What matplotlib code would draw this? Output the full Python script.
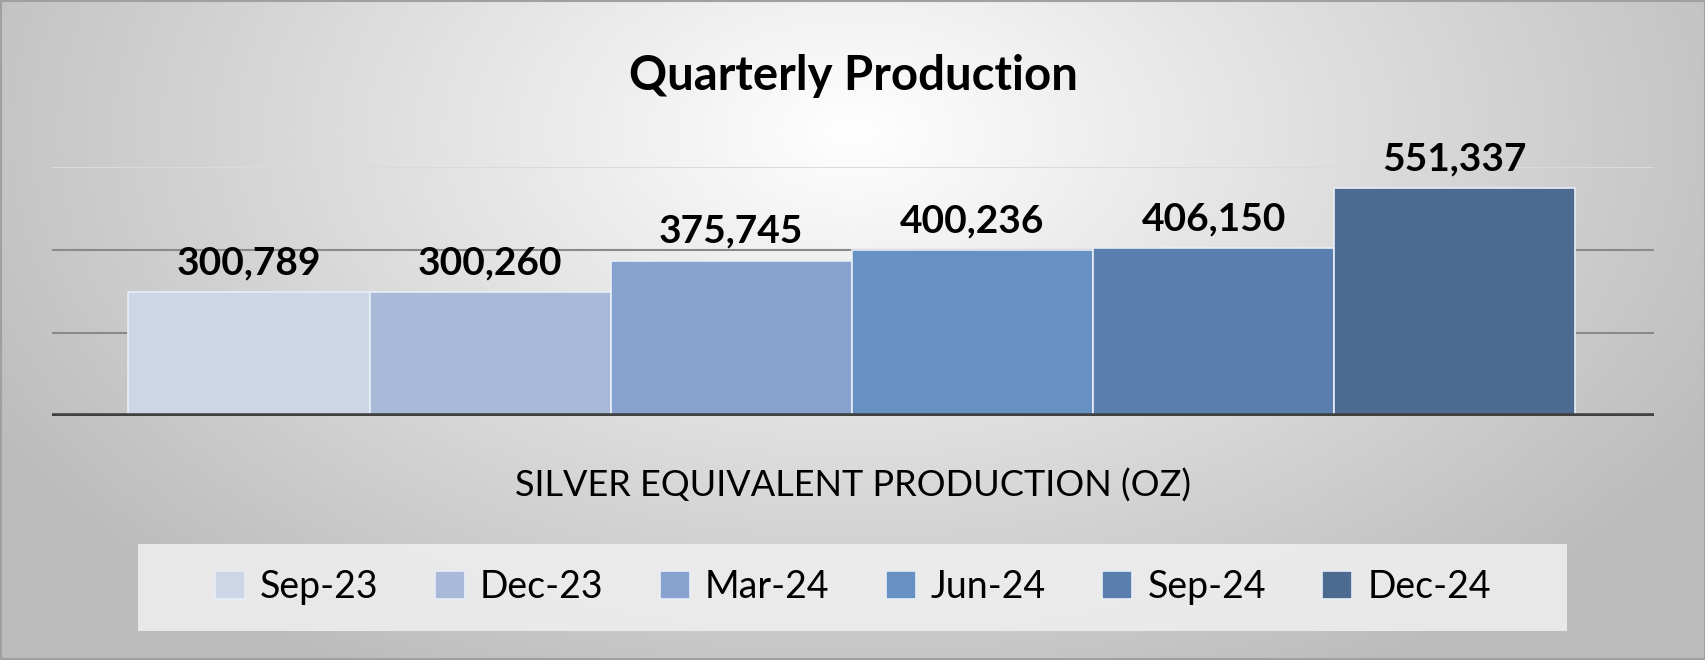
import matplotlib
matplotlib.use("Agg")
import matplotlib.pyplot as plt
import numpy as np
from matplotlib.patches import Rectangle

quarters = ["Sep-23", "Dec-23", "Mar-24", "Jun-24", "Sep-24", "Dec-24"]
production = [300789, 300260, 375745, 400236, 406150, 551337]
colors = ["#CDD6E6", "#A9BAD8", "#87A2CE", "#6791C3", "#5A7FAE", "#4D6A91"]

plt.rcParams['font.family'] = ['Lato', 'DejaVu Sans']
W, H = 1706, 660
RW, RH = 1568, 607  # reference layout coordinate space
fig = plt.figure(figsize=(W/100, H/100), dpi=100)

# background radial gradient
bg = fig.add_axes([0, 0, 1, 1], zorder=-10)
yy, xx = np.mgrid[0:RH, 0:RW]
r = np.sqrt(((xx - RW*0.5)/(RW*0.55))**2 + ((yy - RH*0.2)/(RH*0.9))**2)
g = np.clip(1.0 - 0.25*r, 0.74, 1.0)
bg.imshow(np.dstack([g, g, g]), aspect='auto', extent=[0, RW, RH, 0])
bg.add_patch(Rectangle((127, 500), 1440-127, 80, facecolor='#F0F0F0', edgecolor='none', alpha=0.85))
bg.add_patch(Rectangle((1, 1), RW-2, RH-2, facecolor='none', edgecolor='#A0A0A0', linewidth=1.5))
bg.set_xlim(0, RW); bg.set_ylim(RH, 0); bg.axis('off')

left, right, base, top = 48, 1520, 383, 154
ax = fig.add_axes([left/RW, 1-base/RH, (right-left)/RW, (base-top)/RH])
ax.patch.set_alpha(0)
unit = (1448-118)/6
x0 = -0.5 - (118-left)/unit
x1 = 5.5 + (right-1448)/unit
for i, (q, v, c) in enumerate(zip(quarters, production, colors)):
    ax.bar(i, v, width=1, color=c, edgecolor='#E8EEF6', linewidth=1.2, label=q, zorder=3)
    ax.text(i, v + 28000, f"{v:,}", ha='center', va='bottom', fontsize=28, fontweight='bold', zorder=4)
ax.set_xlim(x0, x1)
ax.set_ylim(0, 600000)
for y in [200000, 400000, 600000]:
    ax.axhline(y, color='#8A8A8A' if y < 600000 else '#DADADA', linewidth=1.5, zorder=1)
ax.axhline(0, color='#404040', linewidth=4, zorder=5)
for s in ax.spines.values():
    s.set_visible(False)
ax.set_xticks([]); ax.set_yticks([])

fig.text(784/RW, 1-70/RH, "Quarterly Production", ha='center', va='center', fontsize=34, fontweight='bold')
fig.text(784/RW, 1-447/RH, "SILVER EQUIVALENT PRODUCTION (OZ)", ha='center', va='center', fontsize=26)
fig.legend(loc='center', bbox_to_anchor=(784/RW, 1-540/RH), ncol=6, frameon=False,
           fontsize=27, handlelength=0.8, handleheight=0.8, columnspacing=1.5, handletextpad=0.4)

fig.savefig("out.png", dpi=100)
